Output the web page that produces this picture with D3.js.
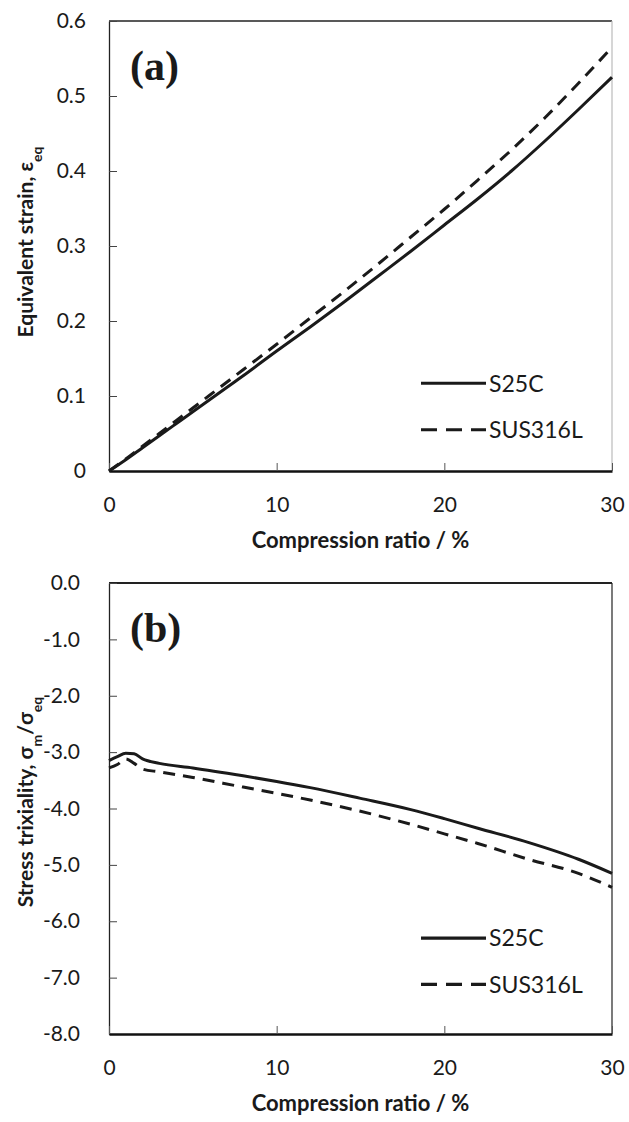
<!DOCTYPE html>
<html>
<head>
<meta charset="utf-8">
<script src="https://cdn.jsdelivr.net/npm/d3@7.9.0/dist/d3.min.js"></script>
<style>
  body { margin: 0; background: #fff; }
  svg { display: block; }
</style>
</head>
<body>
<div id="chart"></div>
<script>
// ---- data ----
const ratioA = [0, 1, 2, 3, 4, 5, 6, 7, 8, 10, 12, 14, 16, 18, 20, 22, 24, 26, 28, 30];
const strainS25C = [0, 0.015, 0.031, 0.047, 0.063, 0.079, 0.095, 0.111, 0.127, 0.16, 0.192, 0.225, 0.259, 0.293, 0.328, 0.363, 0.4, 0.44, 0.482, 0.525];
const strainSUS316L = [0, 0.016, 0.033, 0.05, 0.067, 0.084, 0.101, 0.118, 0.135, 0.169, 0.204, 0.239, 0.275, 0.312, 0.349, 0.388, 0.428, 0.471, 0.517, 0.565];

const ratioB = [0, 0.5, 1, 1.5, 2, 3, 5, 8, 10, 12, 15, 18, 20, 22, 25, 28, 30];
const triaxS25C = [-3.15, -3.08, -3.02, -3.03, -3.12, -3.2, -3.28, -3.42, -3.52, -3.63, -3.82, -4.02, -4.18, -4.35, -4.6, -4.9, -5.15];
const triaxSUS316L = [-3.28, -3.22, -3.12, -3.2, -3.3, -3.35, -3.45, -3.62, -3.73, -3.85, -4.05, -4.28, -4.45, -4.62, -4.9, -5.15, -5.4];

const xTicks = [0, 10, 20, 30];
const yTicksA = [0, 0.1, 0.2, 0.3, 0.4, 0.5, 0.6];
const yTicksB = [0, -1, -2, -3, -4, -5, -6, -7, -8];
const seriesNames = ['S25C', 'SUS316L'];

const width = 629;
const height = 1122;
const sans = 'Lato, "Open Sans", sans-serif';

const svg = d3.select('#chart')
  .append('svg')
  .attr('width', width)
  .attr('height', height);

function renderPanel(opts) {
  const { top, bottom, x, yDomain, yTicks, yFormat, yPad, series, tag, legendY, labelY, labelLines, frame } = opts;
  const left = 109;
  const right = 612;

  const xScale = d3.scaleLinear().domain([0, 30]).range([left, right]);
  const yScale = d3.scaleLinear().domain(yDomain).range([bottom, top]);

  const g = svg.append('g');

  // frame (top + right)
  g.append('line')
    .attr('x1', left).attr('x2', right).attr('y1', top).attr('y2', top)
    .attr('stroke', '#222').attr('stroke-width', frame.topW);
  g.append('line')
    .attr('x1', right).attr('x2', right).attr('y1', top).attr('y2', bottom)
    .attr('stroke', frame.rightC).attr('stroke-width', 1.2);

  // y axis, ticks pointing inwards
  const yAxis = d3.axisLeft(yScale)
    .tickValues(yTicks)
    .tickFormat(yFormat)
    .tickSizeInner(-8)
    .tickSizeOuter(0)
    .tickPadding(yPad);
  const ya = g.append('g').attr('transform', `translate(${left},0)`).call(yAxis);
  ya.select('.domain').attr('stroke', '#222').attr('stroke-width', 1.3);
  ya.selectAll('.tick line').attr('stroke', '#444');
  ya.selectAll('.tick text')
    .style('font-family', sans).style('font-size', '21px').attr('fill', '#1a1a1a');

  // x axis
  const xAxis = d3.axisBottom(xScale)
    .tickValues(xTicks)
    .tickSizeInner(-8)
    .tickSizeOuter(0)
    .tickPadding(26);
  const xa = g.append('g').attr('transform', `translate(0,${bottom})`).call(xAxis);
  xa.select('.domain').attr('stroke', '#111').attr('stroke-width', 2.4);
  xa.selectAll('.tick line').attr('stroke', '#555');
  xa.selectAll('.tick text')
    .style('font-family', sans).style('font-size', '21px').attr('fill', '#1a1a1a');

  // lines
  const line = d3.line()
    .x((d, i) => xScale(x[i]))
    .y((d) => yScale(d))
    .curve(d3.curveMonotoneX);

  series.forEach((s, i) => {
    g.append('path')
      .datum(s)
      .attr('fill', 'none')
      .attr('stroke', '#1a1a1a')
      .attr('stroke-width', 3)
      .attr('stroke-dasharray', i === 1 ? '12,8' : null)
      .attr('d', line);
  });

  // legend
  seriesNames.forEach((name, i) => {
    const ly = yScale(legendY[i]);
    g.append('line')
      .attr('x1', 421).attr('x2', 486)
      .attr('y1', ly).attr('y2', ly)
      .attr('stroke', '#1a1a1a')
      .attr('stroke-width', 3.2)
      .attr('stroke-dasharray', i === 1 ? '16,9' : null);
    g.append('text')
      .attr('x', 489).attr('y', ly)
      .attr('dy', '0.36em')
      .style('font-family', sans)
      .style('font-size', '23px')
      .attr('fill', '#1a1a1a')
      .text(name);
  });

  // panel tag
  g.append('text')
    .attr('x', 130).attr('y', top + 59)
    .style('font-family', '"Liberation Serif", "DejaVu Serif", serif')
    .style('font-weight', 'bold')
    .style('font-size', '42px')
    .attr('fill', '#1a1a1a')
    .text(tag);

  // x title
  g.append('text')
    .attr('x', (left + right) / 2)
    .attr('y', bottom + 77)
    .attr('text-anchor', 'middle')
    .style('font-family', sans)
    .style('font-weight', 'bold')
    .style('font-size', '22px')
    .attr('fill', '#1a1a1a')
    .text('Compression ratio / %');

  // y title
  const yt = g.append('text')
    .attr('transform', `translate(33,${labelY}) rotate(-90)`)
    .attr('text-anchor', 'middle')
    .style('font-family', sans)
    .style('font-weight', 'bold')
    .style('font-size', '21px')
    .attr('fill', '#1a1a1a');
  labelLines.forEach(([t, sub]) => {
    const ts = yt.append('tspan').text(t);
    if (sub) {
      ts.attr('baseline-shift', 'sub').style('font-size', '14px');
    }
  });
}

renderPanel({
  top: 21, bottom: 471,
  x: ratioA,
  yDomain: [0, 0.6],
  yTicks: yTicksA,
  yFormat: (d) => (d === 0 ? '0' : d3.format('.1f')(d)),
  yPad: 23,
  series: [strainS25C, strainSUS316L],
  tag: '(a)',
  legendY: [0.117, 0.055],
  labelY: 242,
  labelLines: [['Equivalent strain, ε', false], ['eq', true]],
  frame: { topW: 1.3, rightC: '#bbb' },
});

renderPanel({
  top: 583, bottom: 1034,
  x: ratioB,
  yDomain: [-8, 0],
  yTicks: yTicksB,
  yFormat: (d) => d3.format('.1f')(d).replace('−', '-'),
  yPad: 29,
  series: [triaxS25C, triaxSUS316L],
  tag: '(b)',
  legendY: [-6.3, -7.12],
  labelY: 802,
  labelLines: [['Stress trixiality, σ', false], ['m', true], ['/σ', false], ['eq', true]],
  frame: { topW: 1.8, rightC: '#222' },
});
</script>
</body>
</html>
